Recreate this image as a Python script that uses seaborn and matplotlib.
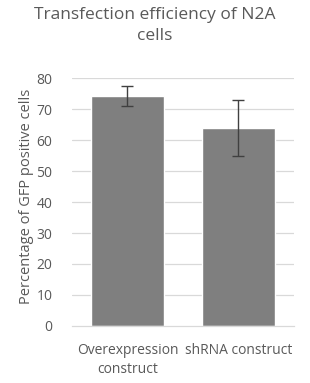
import matplotlib
matplotlib.use("Agg")
import matplotlib.pyplot as plt
import seaborn as sns
import pandas as pd

categories = ["Overexpression\nconstruct", "shRNA construct"]
values = [74.2, 63.9]
errors = [3.2, 9.0]
yticks = [0, 10, 20, 30, 40, 50, 60, 70, 80]

sns.set_theme(style="white")
plt.rcParams["font.family"] = ["Open Sans", "DejaVu Sans"]

df = pd.DataFrame({"cat": categories, "val": values})

fig = plt.figure(figsize=(3.10, 3.83), dpi=100)
ax = fig.add_axes([0.232, 0.149, 0.716, 0.647])
ax.set_axisbelow(True)
for t in yticks[1:]:
    ax.axhline(t, color="#d9d9d9", lw=0.9, zorder=0)
sns.barplot(data=df, x="cat", y="val", color="#7f7f7f", saturation=1,
            width=0.66, errorbar=None, ax=ax, zorder=2)
ax.errorbar(range(len(values)), values, yerr=errors, fmt="none",
            ecolor="#404040", elinewidth=1.0, capsize=4, capthick=1.0, zorder=3)
ax.set_xlim(-0.5, 1.5)
ax.set_ylim(0, 80)
ax.set_yticks(yticks)
for s in ["top", "right", "left"]:
    ax.spines[s].set_visible(False)
ax.spines["bottom"].set_color("#d9d9d9")
ax.spines["bottom"].set_linewidth(0.9)
ax.tick_params(axis="both", length=0, colors="#595959", labelsize=10)
ax.tick_params(axis="y", pad=14)
ax.tick_params(axis="x", pad=12)
for lbl in ax.get_xticklabels():
    lbl.set_linespacing(1.4)
ax.set_xlabel("")
ax.set_ylabel("Percentage of GFP positive cells", color="#595959", fontsize=10.5)
ax.yaxis.set_label_coords(-0.172, 0.524)
fig.text(0.5, 1 - 7 / 383, "Transfection efficiency of N2A\ncells", color="#595959",
         fontsize=12.5, ha="center", va="top", linespacing=1.45)
fig.savefig("out.png", dpi=100, facecolor="white")
